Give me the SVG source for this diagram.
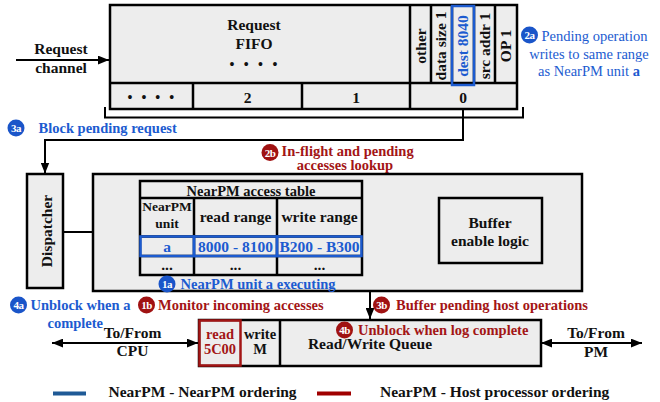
<svg xmlns="http://www.w3.org/2000/svg" width="660" height="402" viewBox="0 0 660 402">
<defs>
<marker id="ah" viewBox="0 0 10 8" refX="10" refY="4" markerWidth="11" markerHeight="9" markerUnits="userSpaceOnUse" orient="auto-start-reverse"><path d="M0,0L10,4L0,8z" fill="#000"/></marker>
</defs>
<style>
text{font-family:"Liberation Serif","Times New Roman",serif;font-weight:bold;font-size:15.5px;fill:#111}
.b{fill:#ededed;stroke:#000;stroke-width:2.5}
.ln{fill:none;stroke:#000;stroke-width:2}
.c{text-anchor:middle}
.s14{font-size:14.5px}
.blue{fill:#1c5bd0}
.red{fill:#a31515}
.bo{fill:none;stroke:#1c5bd0;stroke-width:2.5}
.ro{fill:none;stroke:#a31515;stroke-width:2.5}
.bc{fill:#1a55c9}
.rc{fill:#a01212}
.badge{font-size:11px;fill:#fff;text-anchor:middle;letter-spacing:-0.6px}
.reg{font-weight:normal}
</style>

<g id="connectors">
<path class="ln" d="M16,60H109" marker-end="url(#ah)"/>
<path class="ln" d="M105,107V117.5H523V107"/>
<path class="ln" d="M463,109V140H45V173.5" marker-end="url(#ah)"/>
<path class="ln" d="M62,232H139" marker-end="url(#ah)"/>
<path class="ln" d="M362,216H438" marker-end="url(#ah)"/>
<path class="ln" d="M439,232H370V319" marker-end="url(#ah)"/>
<path class="ln" d="M52,343H198" marker-start="url(#ah)" marker-end="url(#ah)"/>
<path class="ln" d="M541,343H642" marker-start="url(#ah)" marker-end="url(#ah)"/>
</g>

<g id="request-channel">
<text class="c" x="61" y="54">Request</text>
<text class="c" x="61" y="72.5">channel</text>
</g>

<g id="fifo">
<rect class="b" x="110" y="5" width="407" height="104"/>
<path class="ln" style="stroke-width:2.5" d="M110,83H517M193,83V109M302,83V109M410,5V109M431,5V83M452,5V83M474,5V83M495,5V83"/>
<rect class="bo" x="452" y="6" width="22" height="79"/>
<text class="c" x="254" y="30">Request</text>
<text class="c" x="254" y="49">FIFO</text>
<text x="229.5 243.8 258.1 272.4" y="69" style="font-size:14px">••••</text>
<text x="127.5 141.4 155.3 169.2" y="101.5" style="font-size:14px">••••</text>
<text class="c" x="247.5" y="102.5">2</text>
<text class="c" x="356" y="102.5">1</text>
<text class="c" x="463" y="102.5">0</text>
<text class="c" transform="translate(425.5,46) rotate(-90)">other</text>
<text class="c" transform="translate(445.5,46) rotate(-90)">data size 1</text>
<text class="c blue" transform="translate(467.5,46) rotate(-90)">dest 8040</text>
<text class="c" transform="translate(490,46) rotate(-90)">src addr 1</text>
<text class="c" transform="translate(510.5,46) rotate(-90)">OP 1</text>
</g>

<g id="label-2a">
<circle class="bc" cx="529.5" cy="35" r="8.5"/>
<text class="badge" x="529.5" y="39">2a</text>
<text class="blue reg s14" x="541.5" y="40.5">Pending operation</text>
<text class="blue reg s14 c" x="589" y="58.5">writes to same range</text>
<text class="blue reg s14 c" x="589" y="76">as NearPM unit <tspan style="font-weight:bold">a</tspan></text>
</g>

<g id="label-3a">
<circle class="bc" cx="16" cy="128" r="8.5"/>
<text class="badge" x="16" y="132">3a</text>
<text class="blue s14" x="38.5" y="133">Block pending request</text>
</g>

<g id="label-2b">
<circle class="rc" cx="270" cy="152.5" r="8.5"/>
<text class="badge" x="270" y="156.5">2b</text>
<text class="red s14" x="281.5" y="155.5">In-flight and pending</text>
<text class="red s14 c" x="345" y="169.5">accesses lookup</text>
</g>

<g id="dispatcher">
<rect class="b" x="27" y="174" width="36" height="114"/>
<text class="c" transform="translate(51.5,231) rotate(-90)">Dispatcher</text>
</g>

<g id="nearpm-block">
<rect class="b" x="93" y="174" width="489" height="117"/>
</g>

<g id="access-table">
<rect x="140" y="181" width="222" height="94" fill="#ededed" stroke="#000" stroke-width="2.5"/>
<path class="ln" style="stroke-width:2.5" d="M140,198H362M140,236.5H362M140,256H362M194,198V275M277,198V275"/>
<rect class="bo" x="140.5" y="236.5" width="53.5" height="19.5"/>
<rect class="bo" x="194" y="236.5" width="83" height="19.5"/>
<rect class="bo" x="277" y="236.5" width="84.5" height="19.5"/>
<text class="c s14" x="251" y="196">NearPM access table</text>
<text class="c" style="font-size:13.5px" x="167" y="210.5">NearPM</text>
<text class="c" style="font-size:13.5px" x="167" y="227.5">unit</text>
<text class="c" x="235.5" y="221.5">read range</text>
<text class="c" x="319.5" y="221.5">write range</text>
<text class="c blue" x="167" y="251.5">a</text>
<text class="c blue" x="235.5" y="251.5">8000 - 8100</text>
<text class="c blue" x="319.5" y="251.5">B200 - B300</text>
<text class="c" x="167" y="269.5">...</text>
<text class="c" x="235.5" y="269.5">...</text>
<text class="c" x="319.5" y="269.5">...</text>
</g>

<g id="label-1a">
<circle class="bc" cx="167" cy="284" r="8.5"/>
<text class="badge" x="167" y="288">1a</text>
<text class="blue s14" x="180.5" y="288.5">NearPM unit a executing</text>
</g>

<g id="buffer">
<rect class="b" x="439" y="198" width="103" height="65"/>
<text class="c" x="490" y="227.5">Buffer</text>
<text class="c" x="490" y="246">enable logic</text>
</g>

<g id="label-4a">
<circle class="bc" cx="18.5" cy="305" r="8.5"/>
<text class="badge" x="18.5" y="309">4a</text>
<text class="blue s14" x="30.5" y="310">Unblock when a</text>
<text class="blue s14" x="47.5" y="327.5">complete</text>
</g>

<g id="label-1b">
<circle class="rc" cx="146.5" cy="305" r="8.5"/>
<text class="badge" x="146.5" y="309">1b</text>
<text class="red s14" x="158" y="310">Monitor incoming accesses</text>
</g>

<g id="label-3b">
<circle class="rc" cx="381.5" cy="305" r="8.5"/>
<text class="badge" x="381.5" y="309">3b</text>
<text class="red s14" x="396" y="310">Buffer pending host operations</text>
</g>

<g id="cpu-label">
<text class="c" x="132.5" y="337.5">To/From</text>
<text class="c" x="132.5" y="356">CPU</text>
</g>

<g id="queue">
<rect class="b" x="199" y="320" width="342" height="46"/>
<path class="ln" style="stroke-width:2.5" d="M280,320V366"/>
<rect class="ro" x="199.5" y="320.5" width="41" height="45"/>
<text class="c red" style="font-size:14.5px" x="220" y="339">read</text>
<text class="c red" style="font-size:14.5px" x="220" y="354">5C00</text>
<text class="c" style="font-size:14.5px" x="260" y="338.5">write</text>
<text class="c" style="font-size:14.5px" x="260" y="353.5">M</text>
<text class="c" x="370" y="348.5">Read/Write Queue</text>
</g>

<g id="label-4b">
<circle class="rc" cx="344.5" cy="330" r="8.5"/>
<text class="badge" x="344.5" y="334">4b</text>
<text class="red s14" x="358" y="334.5">Unblock when log complete</text>
</g>

<g id="pm-label">
<text class="c" x="596" y="338">To/From</text>
<text class="c" x="596" y="356.5">PM</text>
</g>

<g id="legend">
<path d="M53,393.5H86" stroke="#1f5a96" stroke-width="4"/>
<text x="108.5" y="397">NearPM - NearPM ordering</text>
<path d="M317,393.5H351" stroke="#a00000" stroke-width="4"/>
<text x="380" y="397">NearPM - Host processor ordering</text>
</g>
</svg>
